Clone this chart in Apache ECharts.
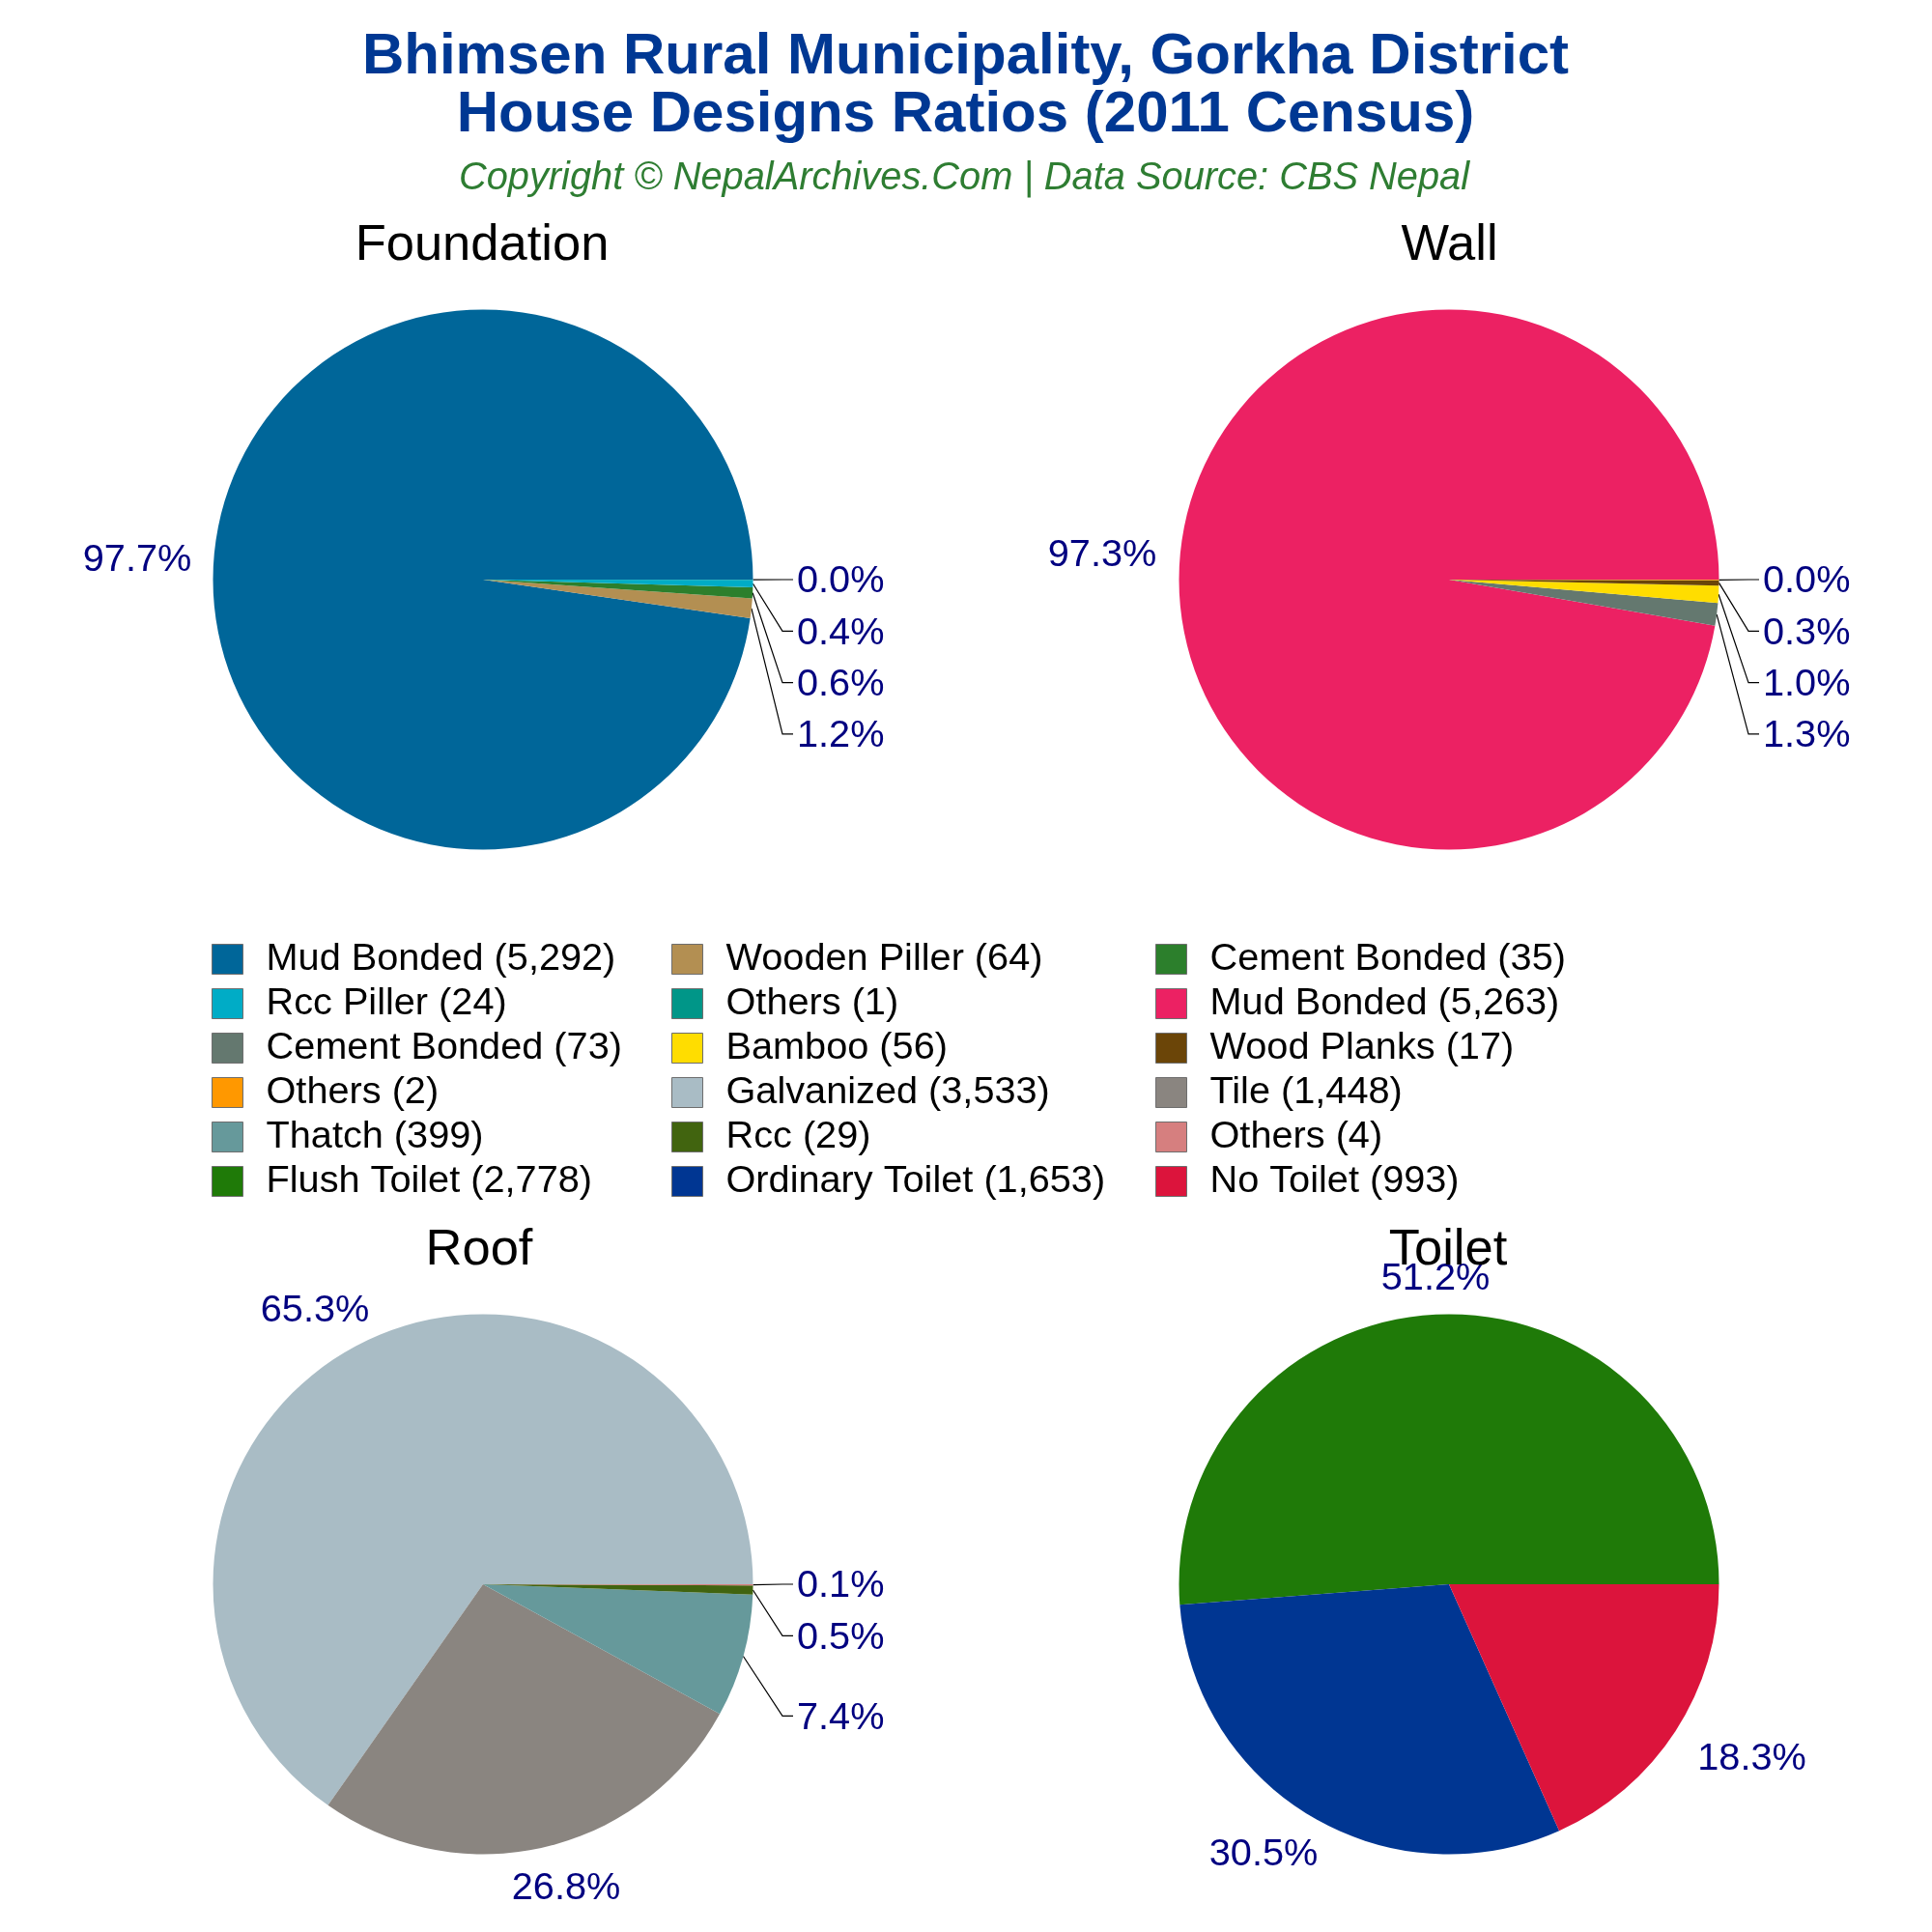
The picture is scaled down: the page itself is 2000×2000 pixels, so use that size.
<!DOCTYPE html>
<html lang="en">
<head>
    <meta charset="UTF-8">
    <title>House Designs Ratios</title>
    <script src="https://cdn.jsdelivr.net/npm/echarts@6/dist/echarts.min.js"></script>
    <style>
        html, body {
            margin: 0;
            background: #fff;
        }
    </style>
</head>
<body>
<div id="main" style="width: 2000px;height: 2000px"></div>
<script>
    // values from the legend, in slice order
    var foundationNames = ['Mud Bonded', 'Wooden Piller', 'Cement Bonded', 'Rcc Piller', 'Others'];
    var foundationValues = [5292, 64, 35, 24, 1];
    var foundationColors = ['#006699', '#b38f52', '#2c7f2c', '#00acc6', '#009688'];

    var wallNames = ['Mud Bonded', 'Cement Bonded', 'Bamboo', 'Wood Planks', 'Others'];
    var wallValues = [5263, 73, 56, 17, 2];
    var wallColors = ['#ec2163', '#64786f', '#ffdd00', '#6b4508', '#ff9800'];

    var roofNames = ['Galvanized', 'Tile', 'Thatch', 'Rcc', 'Others'];
    var roofValues = [3533, 1448, 399, 29, 4];
    var roofColors = ['#a9bcc5', '#8a8580', '#66999b', '#41640f', '#d67f7f'];

    var toiletNames = ['Flush Toilet', 'Ordinary Toilet', 'No Toilet'];
    var toiletValues = [2778, 1653, 993];
    var toiletColors = ['#1f7a08', '#003692', '#dc143c'];

    var FONT = '"Liberation Sans", Arial, sans-serif';
    var RADIUS = 279.5;
    var ROW = 53.3;
    var ELBOW_X = 310, LINE_END_X = 321, LABEL_X = 325;

    // label spots relative to each pie centre; null = stacked with a leader line
    var labelSpots = [
        [[-358, -20], null, null, null, null],
        [[-359, -24.5], null, null, null, null],
        [[-174, -282.5], [86, 315.5], null, null, null],
        [[-14, -316], [-192, 280], [313.5, 181.5]]
    ];
    // roof thatch label sits lower than the next row of the stack
    var stackRows = [
        [0, 3, 2, 1, 0],
        [0, 3, 2, 1, 0],
        [0, 0, 2.56, 1, 0],
        [0, 0, 0]
    ];

    function slices(names, values, colors, spots) {
        return names.map(function (n, i) {
            return {
                name: n + ' (' + values[i].toLocaleString('en-US') + ')',
                value: values[i],
                itemStyle: {color: colors[i]},
                labelLine: {show: !spots[i]}
            };
        });
    }

    function pie(index, cx, cy, names, values, colors) {
        var total = values.reduce(function (a, b) {
            return a + b;
        }, 0);
        var spots = labelSpots[index];
        return {
            type: 'pie',
            center: [cx, cy],
            radius: [0, RADIUS],
            startAngle: 0,
            clockwise: false,
            animation: false,
            silent: true,
            avoidLabelOverlap: false,
            data: slices(names, values, colors, spots),
            label: {
                show: true,
                color: '#000080',
                fontFamily: FONT,
                fontSize: 39.7,
                formatter: function (p) {
                    return (p.value / total * 100).toFixed(1) + '%';
                }
            },
            labelLine: {
                show: true,
                lineStyle: {color: '#000', width: 1.2}
            },
            labelLayout: function (p) {
                var i = p.dataIndex;
                if (spots[i]) {
                    return {
                        x: cx + spots[i][0],
                        y: cy + spots[i][1],
                        align: 'center',
                        verticalAlign: 'middle'
                    };
                }
                // angle of the middle of this slice, counted anticlockwise from 3 o'clock
                var before = values.slice(0, i).reduce(function (a, b) {
                    return a + b;
                }, 0);
                var angle = (before + values[i] / 2) / total * 2 * Math.PI;
                var y = cy + stackRows[index][i] * ROW;
                return {
                    x: cx + LABEL_X,
                    y: y + 2.5,
                    align: 'left',
                    verticalAlign: 'middle',
                    labelLinePoints: [
                        [cx + RADIUS * Math.cos(angle), cy - RADIUS * Math.sin(angle)],
                        [cx + ELBOW_X, y],
                        [cx + LINE_END_X, y]
                    ]
                };
            }
        };
    }

    function legendColumn(left, names) {
        return {
            orient: 'vertical',
            left: left,
            top: 968,
            icon: 'rect',
            itemWidth: 32,
            itemHeight: 31,
            itemGap: 6,
            selectedMode: false,
            itemStyle: {borderColor: '#6e6e6e', borderWidth: 1},
            textStyle: {color: '#000', fontFamily: FONT, fontSize: 39.7, padding: [0, 0, 0, 19]},
            data: names
        };
    }

    function label(names, values, i) {
        return names[i] + ' (' + values[i].toLocaleString('en-US') + ')';
    }

    function subTitle(text, x, y) {
        return {
            text: text,
            left: x,
            top: y,
            textAlign: 'center',
            textVerticalAlign: 'middle',
            textStyle: {color: '#000', fontFamily: FONT, fontSize: 52.5, fontWeight: 'normal'}
        };
    }

    var myChart = echarts.init(document.getElementById('main'), null, {renderer: 'canvas'});

    var option = {
        backgroundColor: '#fff',
        title: [
            {
                text: 'Bhimsen Rural Municipality, Gorkha District\nHouse Designs Ratios (2011 Census)',
                left: 994.5,
                top: 84.5,
                textAlign: 'center',
                textVerticalAlign: 'middle',
                textStyle: {color: '#003893', fontFamily: FONT, fontSize: 60, fontWeight: 'bold', lineHeight: 60}
            },
            {
                text: 'Copyright © NepalArchives.Com | Data Source: CBS Nepal',
                left: 993,
                top: 180,
                textAlign: 'center',
                textVerticalAlign: 'middle',
                textStyle: {color: '#2e7d32', fontFamily: FONT, fontSize: 39.8, fontStyle: 'italic', fontWeight: 'normal'}
            },
            subTitle('Foundation', 494, 250),
            subTitle('Wall', 1495.5, 250),
            subTitle('Roof', 491, 1290),
            subTitle('Toilet', 1494, 1290)
        ],
        legend: [
            legendColumn(214, [
                label(foundationNames, foundationValues, 0),
                label(foundationNames, foundationValues, 3),
                label(wallNames, wallValues, 1),
                label(wallNames, wallValues, 4),
                label(roofNames, roofValues, 2),
                label(toiletNames, toiletValues, 0)
            ]),
            legendColumn(690, [
                label(foundationNames, foundationValues, 1),
                label(foundationNames, foundationValues, 4),
                label(wallNames, wallValues, 2),
                label(roofNames, roofValues, 0),
                label(roofNames, roofValues, 3),
                label(toiletNames, toiletValues, 1)
            ]),
            legendColumn(1191, [
                label(foundationNames, foundationValues, 2),
                label(wallNames, wallValues, 0),
                label(wallNames, wallValues, 3),
                label(roofNames, roofValues, 1),
                label(roofNames, roofValues, 4),
                label(toiletNames, toiletValues, 2)
            ])
        ],
        series: [
            pie(0, 500, 600, foundationNames, foundationValues, foundationColors),
            pie(1, 1500, 600, wallNames, wallValues, wallColors),
            pie(2, 500, 1640, roofNames, roofValues, roofColors),
            pie(3, 1500, 1640, toiletNames, toiletValues, toiletColors)
        ]
    };

    myChart.setOption(option);
</script>
</body>
</html>
